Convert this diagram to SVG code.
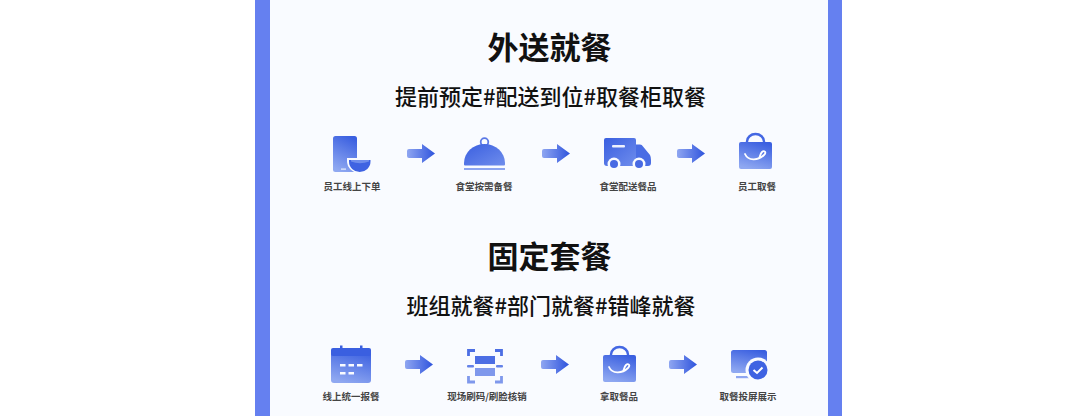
<svg xmlns="http://www.w3.org/2000/svg" width="1075" height="416" viewBox="0 0 1075 416">
<style>
.t{font-family:"Noto Sans CJK SC","Noto Sans",sans-serif;fill:#111;text-anchor:middle;font-weight:700}
.h1{font-size:31px}
.h2{font-size:22px;font-weight:500}
.l{font-size:9.500px;fill:#444;font-weight:700}
.f{fill:url(#g)}
.ar{fill:url(#ga)}
</style>
<defs>
<linearGradient id="g" x1="0.7" y1="0" x2="0.35" y2="1"><stop offset="0" stop-color="#3a5fe0"/><stop offset="1" stop-color="#8fa8f1"/></linearGradient>
<linearGradient id="gd" x1="0" y1="0" x2="1" y2="1"><stop offset="0" stop-color="#3a5fe0"/><stop offset="1" stop-color="#6f8dec"/></linearGradient>
<linearGradient id="ga" x1="0" y1="0" x2="1" y2="0"><stop offset="0" stop-color="#8fa6f1"/><stop offset="1" stop-color="#2f54dd"/></linearGradient>
<g id="bag">
<path d="M8 9V7.500a8 7 0 0 1 17 0V9" fill="none" stroke="#4467e3" stroke-width="2.400"/>
<rect x="0" y="8" width="33" height="27" rx="2" class="f"/>
<path d="M6 20C9 27 19 27 25 21C28 18 25 16 23 18C21 20 21 23 20 24" fill="none" stroke="#fff" stroke-width="1.800" stroke-linecap="round"/>
</g>
<path id="arrow" d="M2 5H15V0L28 9.500L15 19V14H2a2 2 0 0 1-2-2V7a2 2 0 0 1 2-2Z"/>
</defs>
<rect width="1075" height="416" fill="#fff"/>
<rect x="262" y="0" width="574" height="416" fill="#f9fbff"/>
<rect x="255" y="0" width="15" height="416" fill="#6580f0"/>
<rect x="828" y="0" width="14" height="416" fill="#6580f0"/>

<text class="t h1" x="549.500" y="59">外送就餐</text>
<text class="t h2" x="550.500" y="105">提前预定#配送到位#取餐柜取餐</text>
<text class="t h1" x="549.500" y="268">固定套餐</text>
<text class="t h2" x="551" y="314">班组就餐#部门就餐#错峰就餐</text>

<g id="connectors" class="ar">
<use href="#arrow" x="407" y="144"/>
<use href="#arrow" x="542" y="144"/>
<use href="#arrow" x="677" y="144"/>
<use href="#arrow" x="405" y="355"/>
<use href="#arrow" x="541" y="355"/>
<use href="#arrow" x="669" y="355"/>
</g>

<g id="n1">
<rect x="333" y="136" width="24" height="36" rx="2.500" class="f"/>
<rect x="341" y="168.500" width="5" height="1.200" fill="#fff" opacity=".8"/>
<path d="M347 158H372V161a12.500 12 0 0 1-25 0Z" fill="#f9fbff"/>
<path d="M349 160H370.500V161.500a10.700 10.500 0 0 1-21.500 0Z" fill="#3f63e2"/>
<path d="M351 160H369V161.500Q360 165 351 161.500Z" fill="#6f8dec"/>
<text class="t l" x="352" y="190">员工线上下单</text>
</g>
<g id="n2">
<circle cx="484.500" cy="142" r="3.800" fill="none" stroke="#5a78e6" stroke-width="1.800"/>
<path d="M464 164.500V163a20.500 19 0 0 1 41 0V164.500a1 1 0 0 1-1 1H465a1 1 0 0 1-1-1Z" fill="url(#gd)"/>
<rect x="464" y="168" width="41" height="2" fill="#8da5f0"/>
<text class="t l" x="484" y="190">食堂按需备餐</text>
</g>
<g id="n3">
<path d="M606 138H634a2 2 0 0 1 2 2V166H607a3 3 0 0 1-3-3V140a2 2 0 0 1 2-2Z" fill="url(#gd)"/>
<path d="M636 144.500H640Q642 144.500 643 146.500L650 155Q651 157 651 160V163a3 3 0 0 1-3 3H636Z" fill="#4a6de4"/>
<rect x="612" y="145" width="13" height="2.500" rx="1" fill="#fff" opacity=".9"/>
<circle cx="614" cy="164" r="6.500" fill="#f9fbff"/><circle cx="614" cy="164" r="4" fill="#4769e3"/>
<circle cx="639" cy="164" r="6.500" fill="#f9fbff"/><circle cx="639" cy="164" r="4" fill="#4769e3"/>
<text class="t l" x="628" y="190">食堂配送餐品</text>
</g>
<g id="n4">
<use href="#bag" x="739" y="134"/>
<text class="t l" x="757" y="190">员工取餐</text>
</g>

<g id="n5">
<rect x="331" y="349" width="40" height="34" rx="3" class="f"/>
<rect x="331" y="348" width="40" height="8" rx="2" fill="#3a5fe0"/>
<rect x="340" y="345.500" width="2.500" height="4" fill="#3a5fe0"/><rect x="360" y="345.500" width="2.500" height="4" fill="#3a5fe0"/>
<g fill="#f9fbff"><rect x="340" y="364" width="5.500" height="2.500"/><rect x="348.500" y="364" width="5.500" height="2.500"/><rect x="357" y="364" width="5.500" height="2.500"/><rect x="340" y="372" width="5.500" height="2.500"/><rect x="348.500" y="372" width="5.500" height="2.500"/></g>
<text class="t l" x="351" y="400">线上统一报餐</text>
</g>
<g id="n6">
<g fill="none" stroke="#4c6ee4" stroke-width="2.800">
<path d="M468.500 356V350.500H475"/><path d="M501.500 356V350.500H495"/>
<path d="M468.500 376V382H475" stroke="#7f98ec"/><path d="M501.500 376V382H495" stroke="#7f98ec"/>
</g>
<rect x="475" y="356" width="20" height="8" fill="#4c6ee4"/>
<rect x="475" y="368" width="20" height="8" fill="#7f98ec"/>
<rect x="467" y="365" width="7" height="2.500" rx="1" fill="#6482e8"/>
<rect x="496" y="365" width="7" height="2.500" rx="1" fill="#6482e8"/>
<text class="t l" x="487" y="400">现场刷码/刷脸核销</text>
</g>
<g id="n7">
<use href="#bag" x="603" y="347"/>
<text class="t l" x="619" y="400">拿取餐品</text>
</g>
<g id="n8">
<rect x="731" y="350" width="36" height="23" rx="2.500" class="f"/>
<rect x="736" y="376" width="13" height="2.200" fill="#8ea6f0"/>
<circle cx="758" cy="370" r="12.500" fill="#f9fbff"/>
<circle cx="758" cy="370" r="9.500" fill="#3f63e2"/>
<path d="M753.500 370L757 373L762.500 367.500" fill="none" stroke="#fff" stroke-width="2"/>
<text class="t l" x="748" y="400">取餐投屏展示</text>
</g>
</svg>
